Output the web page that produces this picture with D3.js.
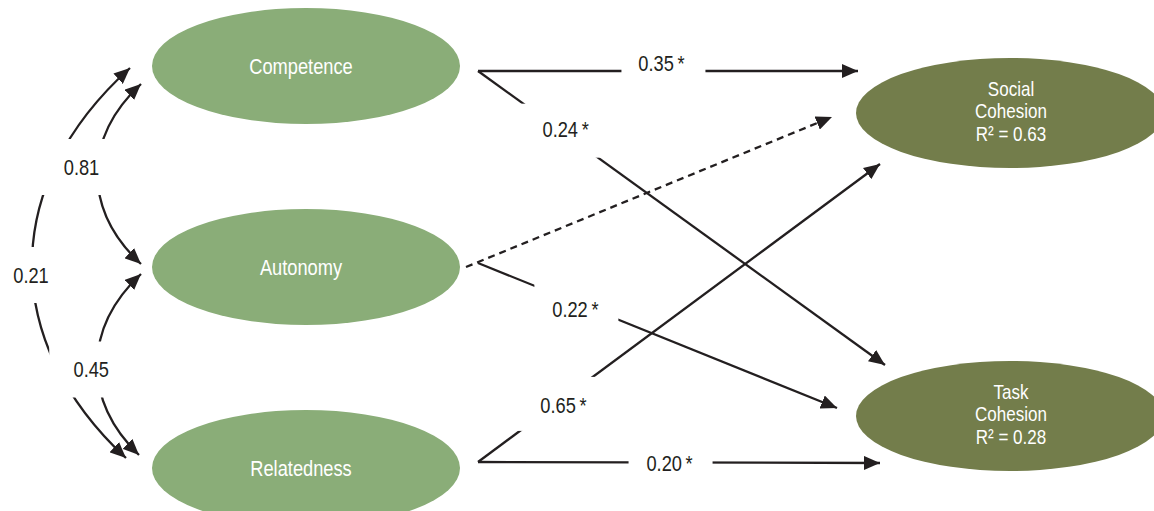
<!DOCTYPE html>
<html>
<head>
<meta charset="utf-8">
<script src="https://cdn.jsdelivr.net/npm/d3@7"></script>
<style>
  html, body { margin: 0; padding: 0; background: #fff; }
  svg { display: block; font-family: "Liberation Sans", Arial, sans-serif; }
</style>
</head>
<body>
<svg id="chart" width="1154" height="511"></svg>
<script>
// Basic psychological needs (predictors) and cohesion outcomes
const predictors = ["Competence", "Autonomy", "Relatedness"];
const outcomes = ["Social Cohesion", "Task Cohesion"];
const outcomeR2 = [0.63, 0.28];

// Structural paths: predictor -> outcome, standardized coefficient, significance
const pathFrom = ["Competence", "Competence", "Autonomy", "Autonomy", "Relatedness", "Relatedness"];
const pathTo   = ["Social Cohesion", "Task Cohesion", "Social Cohesion", "Task Cohesion", "Social Cohesion", "Task Cohesion"];
const pathCoef = [0.35, 0.24, null, 0.22, 0.65, 0.20];
const pathSig  = [true, true, false, true, true, true];

// Correlations among predictors
const corrA = ["Competence", "Autonomy", "Competence"];
const corrB = ["Autonomy", "Relatedness", "Relatedness"];
const corrValue = [0.81, 0.45, 0.21];

const svg = d3.select("#chart");

const leftY = d3.scalePoint().domain(predictors).range([66, 468]);
const rightY = d3.scalePoint().domain(outcomes).range([113, 416]);
const leftX = 306, rightX = 1010, rx = 154;

const ink = "#231f20";
const fmt = d3.format(".2f");
const NARROW = 0.83; // horizontal squeeze for a condensed look

// condensed text helper
function label(g, x, y, str, size, fill) {
  return g.append("text")
    .attr("transform", `translate(${x},${y}) scale(${NARROW},1)`)
    .attr("text-anchor", "middle").attr("dy", "0.36em")
    .attr("font-size", size).attr("fill", fill)
    .text(str);
}

const defs = svg.append("defs");
defs.append("marker")
  .attr("id", "head")
  .attr("viewBox", "0 0 16 14")
  .attr("refX", 16).attr("refY", 7)
  .attr("markerWidth", 16).attr("markerHeight", 14)
  .attr("markerUnits", "userSpaceOnUse")
  .attr("orient", "auto-start-reverse")
  .append("path").attr("d", "M0,0 L16,7 L0,14 Z").attr("fill", ink);

const gLines = svg.append("g");
const gLabels = svg.append("g");
const gNodes = svg.append("g");

// ---- path arrows ----
const srcX = 478;
const srcDy = { "Competence": 5, "Autonomy": -4, "Relatedness": -6 };
// arrow tip per [source row][target row]
const tipX = [[858, 885], [832, 837], [880, 880]];
const tipDy = [[-42, -51], [4, -8], [51, 47]];
// label gap position along each path and text offset from the gap centre
const gapT = [[0.488, 0.203], [0, 0.274], [0.195, 0.479]];
const textDx = [[-2, 5], [0, -1], [7, -1]];
const textDy = [[-8, -2], [0, 6], [1, 1]];

pathFrom.forEach((f, i) => {
  const r = predictors.indexOf(f), c = outcomes.indexOf(pathTo[i]);
  const dashed = !pathSig[i];
  const x0 = srcX + (dashed ? -12 : 0);
  const y0 = leftY(f) + srcDy[f] + (dashed ? 4 : 0);
  const x1 = tipX[r][c], y1 = rightY(pathTo[i]) + tipDy[r][c];
  gLines.append("line")
    .attr("x1", x0).attr("y1", y0).attr("x2", x1).attr("y2", y1)
    .attr("stroke", ink).attr("stroke-width", 2.3)
    .attr("stroke-dasharray", dashed ? "7,5" : null)
    .attr("marker-end", "url(#head)");
  if (pathCoef[i] !== null) {
    const t = gapT[r][c];
    const lx = x0 + (x1 - x0) * t, ly = y0 + (y1 - y0) * t;
    gLabels.append("rect")
      .attr("x", lx - 42).attr("y", ly - 27).attr("width", 84).attr("height", 54)
      .attr("fill", "#fff");
    label(gLabels, lx + textDx[r][c], ly + textDy[r][c],
      fmt(pathCoef[i]) + (pathSig[i] ? "\u2009*" : ""), 22, ink);
  }
});

// ---- correlation curves ----
const corrGeom = [
  { a: [141, 18], b: [141, -3], c: 83, lab: [-16, -7] },
  { a: [141, 7], b: [139, -13], c: 83, lab: [-6, 5] },
  { a: [130, 2], b: [126, -10], c: 0, lab: [-1, 12] }
];
corrA.forEach((a, i) => {
  const s = corrGeom[i];
  const p0 = [s.a[0], leftY(a) + s.a[1]];
  const p3 = [s.b[0], leftY(corrB[i]) + s.b[1]];
  const k = (p3[1] - p0[1]) * 0.3;
  const p = d3.path();
  p.moveTo(p0[0], p0[1]);
  p.bezierCurveTo(s.c, p0[1] + k, s.c, p3[1] - k, p3[0], p3[1]);
  gLines.append("path").attr("d", p.toString())
    .attr("fill", "none").attr("stroke", ink).attr("stroke-width", 2.3)
    .attr("marker-start", "url(#head)").attr("marker-end", "url(#head)");
  const mx = 0.125 * (p0[0] + p3[0]) + 0.75 * s.c;
  const my = (p0[1] + p3[1]) / 2;
  const lx = mx + s.lab[0], ly = my + s.lab[1];
  gLabels.append("rect")
    .attr("x", lx - 42).attr("y", ly - 28).attr("width", 84).attr("height", 56)
    .attr("fill", "#fff");
  label(gLabels, lx, ly, fmt(corrValue[i]), 22, ink);
});

// ---- nodes ----
predictors.forEach(name => {
  gNodes.append("ellipse")
    .attr("cx", leftX).attr("cy", leftY(name)).attr("rx", rx).attr("ry", 58)
    .attr("fill", "#8aad78");
  label(gNodes, leftX - 5, leftY(name), name, 22, "#fff");
});
outcomes.forEach((name, i) => {
  const cy = rightY(name);
  gNodes.append("ellipse")
    .attr("cx", rightX).attr("cy", cy).attr("rx", rx).attr("ry", 55)
    .attr("fill", "#737d4b");
  const lines = name.split(" ").concat(["R\u00b2 = " + fmt(outcomeR2[i])]);
  lines.forEach((ln, j) => {
    label(gNodes, rightX + 1, cy - 2 + (j - 1) * 22.5, ln, 20.5, "#fff");
  });
});
</script>
</body>
</html>
